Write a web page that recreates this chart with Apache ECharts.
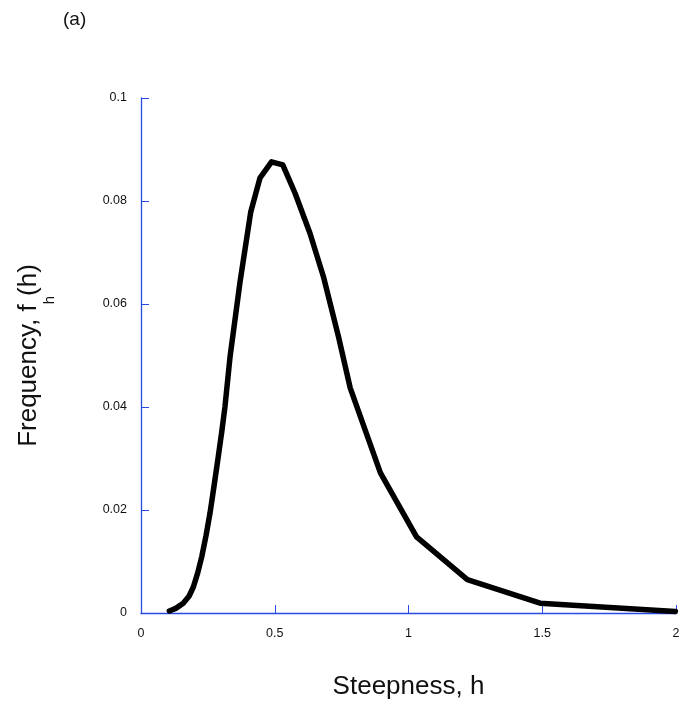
<!DOCTYPE html>
<html>
<head>
<meta charset="utf-8">
<script src="https://cdn.jsdelivr.net/npm/echarts@6/dist/echarts.min.js"></script>
<style>html,body{margin:0;padding:0;background:#fff}#c{width:683px;height:711px}</style>
</head>
<body>
<div id="c"></div>
<script>
var steepness = [0.106,0.13,0.158,0.18,0.196,0.212,0.227,0.243,0.258,0.274,0.289,0.302,0.314,0.333,0.37,0.41,0.445,0.488,0.53,0.576,0.632,0.682,0.738,0.782,0.895,1.03,1.22,1.492,1.998];
var frequency = [0.0004,0.0009,0.0019,0.0033,0.0051,0.0078,0.0109,0.015,0.0194,0.025,0.0304,0.0352,0.0401,0.0498,0.0642,0.0778,0.0845,0.0876,0.087,0.0815,0.0737,0.0653,0.0537,0.0437,0.0272,0.0148,0.0065,0.0019,0.0003];
var xTicks = [0, 0.5, 1, 1.5, 2];
var yTicks = [0, 0.02, 0.04, 0.06, 0.08, 0.1];

var data = steepness.map(function(x, i){ return [x, frequency[i]]; });
var axisColor = '#2a4ae6';
var FONT = 'Liberation Sans, Arial, sans-serif';
var chart = echarts.init(document.getElementById('c'));
chart.setOption({
  animation: false,
  backgroundColor: '#fff',
  textStyle: {fontFamily: FONT},
  graphic: [{type:'text', left: 63, top: 10, style:{text:'(a)', fontSize:19, fill:'#111', fontFamily: FONT}}],
  grid: {show: false, left: 141, right: 7, top: 98, bottom: 98, containLabel: false},
  xAxis: {
    type: 'value', min: 0, max: 2, interval: 0.5,
    axisLine: {show: true, onZero: false, lineStyle: {color: axisColor, width: 1.3, opacity: 1}},
    axisTick: {show: true, inside: true, length: 8, lineStyle: {color: axisColor, width: 1}},
    splitLine: {show: false},
    axisLabel: {color: '#111', fontSize: 12.5, margin: 14, formatter: function(v){ return String(v); }},
    name: 'Steepness, h', nameLocation: 'middle', nameGap: 61,
    nameTextStyle: {fontSize: 26, lineHeight: 26, color: '#111'}
  },
  yAxis: {
    type: 'value', min: 0, max: 0.1, interval: 0.02,
    axisLine: {show: true, onZero: false, lineStyle: {color: axisColor, width: 1.3, opacity: 1}},
    axisTick: {show: true, inside: true, length: 8, lineStyle: {color: axisColor, width: 1}},
    splitLine: {show: false},
    axisLabel: {color: '#111', fontSize: 12.5, margin: 14, formatter: function(v){ return String(v); }},
    name: '{m|Frequency, f}{s|h}{m|(h)}', nameLocation: 'middle', nameGap: 84, nameRotate: 90,
    nameTextStyle: {fontSize: 26, color: '#111', rich: {
      m: {fontSize: 26, lineHeight: 56, color: '#111', fontFamily: FONT},
      s: {fontSize: 15, lineHeight: 16, verticalAlign: 'bottom', color: '#111', fontFamily: FONT}
    }}
  },
  series: [{
    type: 'line', data: data, smooth: false, showSymbol: false,
    lineStyle: {color: '#000', width: 5.5, join: 'round', cap: 'round'}
  }]
});
</script>
</body>
</html>
